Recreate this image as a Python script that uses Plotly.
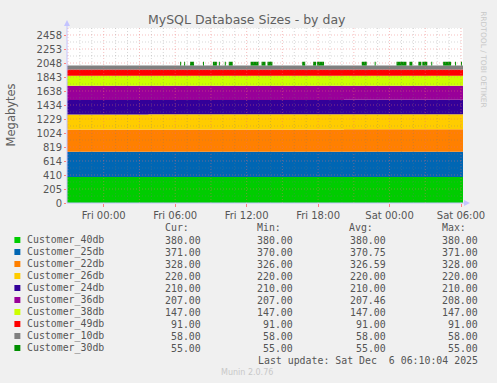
import numpy as np
import pandas as pd
import plotly.graph_objects as go

# ---------------- data ----------------
t_first = "2025-12-04 20:55"
t_last = "2025-12-06 06:10"

names = ["Customer_40db", "Customer_25db", "Customer_22db", "Customer_26db", "Customer_24db",
         "Customer_36db", "Customer_38db", "Customer_49db", "Customer_10db", "Customer_30db"]
colors = ["#00CC00", "#0066B3", "#FF8000", "#FFCC00", "#330099",
          "#990099", "#CCFF00", "#FF0000", "#808080", "#008F00"]
cur_vals = [380.00, 371.00, 328.00, 220.00, 210.00, 207.00, 147.00, 91.00, 58.00, 55.00]
min_vals = [380.00, 370.00, 326.00, 220.00, 210.00, 207.00, 147.00, 91.00, 58.00, 55.00]
avg_vals = [380.00, 370.75, 326.59, 220.00, 210.00, 207.46, 147.00, 91.00, 58.00, 55.00]
max_vals = [380.00, 371.00, 328.00, 220.00, 210.00, 208.00, 147.00, 91.00, 58.00, 55.00]

# step levels (change time -> level) per database, in MB
c40_times = [t_first]; c40_levels = [380]
c25_times = [t_first, "2025-12-05 03:45"]; c25_levels = [370, 371]
c22_times = [t_first, "2025-12-05 20:10"]; c22_levels = [326, 328]
c26_times = [t_first]; c26_levels = [220]
c24_times = [t_first]; c24_levels = [210]
c36_times = [t_first, "2025-12-05 12:15"]; c36_levels = [208, 207]
c38_times = [t_first]; c38_levels = [147]
c49_times = [t_first]; c49_levels = [91]
c10_times = [t_first]; c10_levels = [58]

# Customer_30db only reported during these intervals (inclusive), 55 MB
c30_level = 55
c30_starts = ["2025-12-05 06:25", "2025-12-05 06:45", "2025-12-05 07:15", "2025-12-05 08:20",
              "2025-12-05 09:10", "2025-12-05 09:40", "2025-12-05 10:10", "2025-12-05 10:30",
              "2025-12-05 12:20", "2025-12-05 13:15", "2025-12-05 13:45", "2025-12-05 16:40",
              "2025-12-05 17:35", "2025-12-05 17:55", "2025-12-05 21:40", "2025-12-05 22:45",
              "2025-12-06 00:35", "2025-12-06 01:40", "2025-12-06 02:25", "2025-12-06 02:45",
              "2025-12-06 03:30", "2025-12-06 04:30", "2025-12-06 05:30", "2025-12-06 06:00"]
c30_ends = ["2025-12-05 06:25", "2025-12-05 06:45", "2025-12-05 07:30", "2025-12-05 08:20",
            "2025-12-05 09:25", "2025-12-05 09:40", "2025-12-05 10:10", "2025-12-05 10:45",
            "2025-12-05 12:55", "2025-12-05 13:30", "2025-12-05 14:05", "2025-12-05 16:50",
            "2025-12-05 17:45", "2025-12-05 18:25", "2025-12-05 22:00", "2025-12-05 22:45",
            "2025-12-06 01:20", "2025-12-06 01:50", "2025-12-06 02:35", "2025-12-06 03:05",
            "2025-12-06 03:30", "2025-12-06 05:05", "2025-12-06 05:30", "2025-12-06 06:00"]

y_tick_vals = [0, 204.8, 409.6, 614.4, 819.2, 1024, 1228.8, 1433.6, 1638.4, 1843.2, 2048, 2252.8, 2457.6]
y_tick_text = ["0", "205", "410", "614", "819", "1024", "1229", "1434", "1638", "1843", "2048", "2253", "2458"]
x_tick_vals = ["2025-12-05 00:00", "2025-12-05 06:00", "2025-12-05 12:00",
               "2025-12-05 18:00", "2025-12-06 00:00", "2025-12-06 06:00"]
x_tick_text = ["Fri 00:00", "Fri 06:00", "Fri 12:00", "Fri 18:00", "Sat 00:00", "Sat 06:00"]

# ---------------- build series ----------------
grid = pd.date_range(t_first, t_last, freq="5min")


def step_series(times, levels):
    out = np.zeros(len(grid))
    for t, v in zip(times, levels):
        out[grid >= pd.Timestamp(t)] = v
    return out


def interval_series(starts, ends, level):
    out = np.zeros(len(grid))
    for s, e in zip(starts, ends):
        out[(grid >= pd.Timestamp(s)) & (grid <= pd.Timestamp(e))] = level
    return out


series = [
    step_series(c40_times, c40_levels),
    step_series(c25_times, c25_levels),
    step_series(c22_times, c22_levels),
    step_series(c26_times, c26_levels),
    step_series(c24_times, c24_levels),
    step_series(c36_times, c36_levels),
    step_series(c38_times, c38_levels),
    step_series(c49_times, c49_levels),
    step_series(c10_times, c10_levels),
    interval_series(c30_starts, c30_ends, c30_level),
]

W, H = 497, 383
L, R, T, B = 67, 466, 28, 203


def px(x):
    return (x - L) / (R - L)


def py(y):
    return (B - y) / (B - T)


fig = go.Figure()
for nm, col, vals in zip(names, colors, series):
    fig.add_trace(go.Scatter(
        x=grid, y=vals, name=nm, mode="lines", stackgroup="one",
        line=dict(width=0, shape="hv", color=col), fillcolor=col,
        hoverinfo="skip", showlegend=False))

MAJ = "rgba(235,110,110,0.45)"
MIN = "rgba(120,120,120,0.30)"
DOT = "1px,2px"

shapes = []
# horizontal grid (above traces, like rrdtool)
ymax = 2560
k = 1
while k * 102.4 <= ymax + 0.01:
    yv = k * 102.4
    major = (k % 2 == 0)
    shapes.append(dict(type="line", xref="paper", yref="y", x0=0, x1=1, y0=yv, y1=yv,
                       layer="above", line=dict(color=MAJ if major else MIN, width=1, dash=DOT)))
    k += 1
# vertical grid every hour, major every 3h
for h in pd.date_range("2025-12-04 21:00", "2025-12-06 06:00", freq="1h"):
    major = (h.hour % 3 == 0)
    shapes.append(dict(type="line", xref="x", yref="paper", x0=h, x1=h, y0=0, y1=1,
                       layer="above", line=dict(color=MAJ if major else MIN, width=1, dash=DOT)))
# axis lines + arrows
axcol = "#c4c4ff"
shapes.append(dict(type="line", xref="paper", yref="paper", x0=0, x1=0, y0=0, y1=py(24),
                   line=dict(color=axcol, width=1), layer="above"))
shapes.append(dict(type="line", xref="paper", yref="paper", x0=0, x1=px(470), y0=0, y1=0,
                   line=dict(color=axcol, width=1), layer="above"))
shapes.append(dict(type="path", xref="paper", yref="paper",
                   path=f"M {px(64)} {py(26)} L {px(70)} {py(26)} L {px(67)} {py(20)} Z",
                   fillcolor=axcol, line=dict(width=0), layer="above"))
shapes.append(dict(type="path", xref="paper", yref="paper",
                   path=f"M {px(467)} {py(200)} L {px(467)} {py(206)} L {px(473)} {py(203)} Z",
                   fillcolor=axcol, line=dict(width=0), layer="above"))

# legend squares
row_y0, row_dy = 240, 12
for i, col in enumerate(colors):
    yc = row_y0 + i * row_dy
    shapes.append(dict(type="rect", xref="paper", yref="paper",
                       x0=px(14), x1=px(20), y0=py(yc + 3), y1=py(yc - 3),
                       fillcolor=col, line=dict(width=0)))

ann = []
txt = "#555555"
mono = "DejaVu Sans Mono"
fs = 9.9


def a(x, y, text, xanchor="left", size=fs, color=txt, family=mono, angle=0):
    ann.append(dict(x=px(x), y=py(y), xref="paper", yref="paper", text=text, showarrow=False,
                    xanchor=xanchor, yanchor="middle", textangle=angle, borderpad=0,
                    font=dict(family=family, size=size, color=color)))


a(248, 19, "MySQL Database Sizes - by day", xanchor="center", size=12.5, family="DejaVu Sans", color="#606060")
a(11, 115, "Megabytes", xanchor="center", size=11.5, family="DejaVu Sans", color="#606060", angle=-90)
a(487, 60, "RRDTOOL / TOBI OETIKER", xanchor="center", size=7.5, family="DejaVu Sans", color="#c8c8c8", angle=90)

for hx, lab in zip([190.5, 283.2, 376.8, 469.8], ["Cur:", "Min:", "Avg:", "Max:"]):
    a(hx, 227, lab, xanchor="right")
for i, nm in enumerate(names):
    yc = row_y0 + i * row_dy
    a(26, yc, nm)
    a(203, yc, f"{cur_vals[i]:.2f}", xanchor="right")
    a(296, yc, f"{min_vals[i]:.2f}", xanchor="right")
    a(389.3, yc, f"{avg_vals[i]:.2f}", xanchor="right")
    a(482.3, yc, f"{max_vals[i]:.2f}", xanchor="right")
a(482.3, 360, "Last update: Sat Dec\u00a0\u00a06 06:10:04 2025", xanchor="right")
a(248, 372, "Munin 2.0.76", xanchor="center", size=8, family="DejaVu Sans", color="#c8c8c8")

fig.update_layout(
    width=W, height=H,
    margin=dict(l=L, r=W - R, t=T, b=H - B, pad=0),
    paper_bgcolor="#f0f0f0", plot_bgcolor="#ffffff",
    shapes=shapes, annotations=ann, showlegend=False,
    xaxis=dict(type="date", range=[t_first, t_last], tickvals=x_tick_vals, ticktext=x_tick_text,
               showgrid=False, zeroline=False, ticks="outside", ticklen=3, tickcolor="#ff8080",
               tickfont=dict(family="DejaVu Sans", size=10, color=txt), showline=False,
               fixedrange=True),
    yaxis=dict(range=[0, ymax], tickvals=y_tick_vals, ticktext=y_tick_text,
               showgrid=False, zeroline=False, ticks="outside", ticklen=2, tickcolor="#ff8080",
               tickfont=dict(family="DejaVu Sans", size=10, color=txt), showline=False,
               fixedrange=True),
)

fig.write_html("out.html")
